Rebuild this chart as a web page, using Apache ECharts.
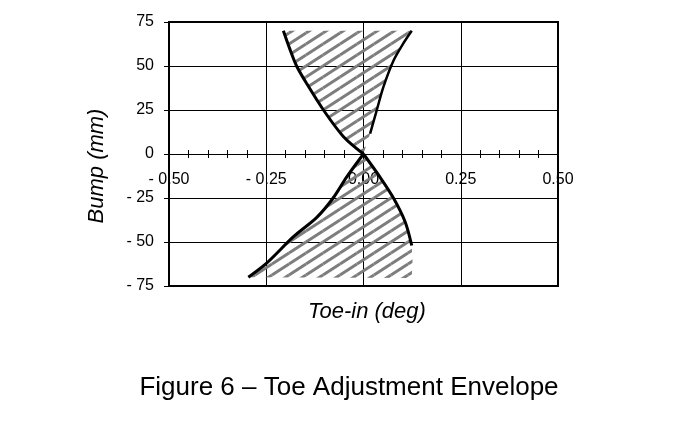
<!DOCTYPE html>
<html>
<head>
<meta charset="utf-8">
<script src="https://cdn.jsdelivr.net/npm/echarts@6/dist/echarts.min.js"></script>
<style>
html,body{margin:0;padding:0;background:#fff;}
#chart{width:686px;height:425px;}
</style>
</head>
<body>
<div id="chart"></div>
<script>
// ---- data ----
var xTicks = [-0.5, -0.25, 0, 0.25, 0.5];
var yTicks = [-75, -50, -25, 0, 25, 50, 75];

var upperLeftX  = [-0.206, -0.190, -0.172, -0.146, -0.103, -0.052, 0];
var upperLeftY  = [70, 60, 50, 40, 25, 10, 0];

var upperRightX = [0, 0.017, 0.034, 0.051, 0.077, 0.100, 0.124];
var upperRightY = [0, 11.6, 24.8, 38, 53, 62, 70];

var lowerLeftX  = [0, -0.043, -0.078, -0.120, -0.180, -0.249, -0.296];
var lowerLeftY  = [0, -13, -25, -36, -47, -62, -70];

var lowerRightX = [0, 0.042, 0.077, 0.107, 0.124, 0.126, 0.124];
var lowerRightY = [0, -13, -25, -38.5, -52, -61.5, -70.5];

var titleText = 'Figure 6 \u2013 Toe Adjustment Envelope';
var xName = 'Toe-in (deg)';
var yName = 'Bump (mm)';

function pairs(xs, ys){ return xs.map(function(x,i){ return [x, ys[i]]; }); }

var upperPoly = pairs(upperLeftX, upperLeftY).concat(pairs(upperRightX, upperRightY));
var lowerPoly = pairs(lowerLeftX, lowerLeftY).concat(pairs(lowerRightX, lowerRightY).reverse());

// hatch pattern
function makeHatch(){
  var w = 17, h = 11;
  var c = document.createElement('canvas');
  c.width = w; c.height = h;
  var g = c.getContext('2d');
  g.strokeStyle = '#7d7d7d';
  g.lineWidth = 3;
  for (var dx = -w; dx <= w; dx += w){
    for (var dy = -h; dy <= h; dy += h){
      g.beginPath();
      g.moveTo(dx, h + dy);
      g.lineTo(w + dx, dy);
      g.stroke();
    }
  }
  return c;
}
var hatch = makeHatch();

function polySeries(points){
  return {
    type: 'custom',
    coordinateSystem: 'cartesian2d',
    xAxisIndex: 0, yAxisIndex: 0,
    data: points,
    z: 3,
    clip: true,
    silent: true,
    renderItem: function(params, api){
      if (params.dataIndex !== 0) return null;
      var pts = points.map(function(p){ return api.coord(p); });
      return {
        type: 'polygon',
        shape: { points: pts },
        style: { fill: { image: hatch, repeat: 'repeat' }, stroke: null }
      };
    }
  };
}

function lineSeries(data, width){
  return {
    type: 'line',
    xAxisIndex: 0, yAxisIndex: 0,
    data: data,
    showSymbol: false,
    symbol: 'none',
    smooth: 0.3,
    z: 5,
    silent: true,
    lineStyle: { color: '#000', width: width }
  };
}

function fmt(v){
  if (v < 0) return '- ' + Math.abs(v).toFixed(2);
  return v.toFixed(2);
}
function fmtY(v){
  if (v < 0) return '- ' + Math.abs(v);
  return String(v);
}

var chart = echarts.init(document.getElementById('chart'), null, {renderer: 'canvas'});
var font = 'Liberation Sans, Arial, sans-serif';
var L = 169, R = 128, T = 22, H = 264, HALF = 132;
var xMin = xTicks[0], xMax = xTicks[xTicks.length-1];

chart.setOption({
  backgroundColor: '#fff',
  animation: false,
  textStyle: { fontFamily: font },
  grid: [
    { left: L, right: R, top: T, height: H, show: true, borderColor: '#000', borderWidth: 2, backgroundColor: 'transparent' },
    { left: L, right: R, top: T, height: HALF, show: false },
    { left: L, right: R, top: T + HALF, height: HALF, show: false }
  ],
  xAxis: [
    {
      gridIndex: 0, type: 'value', min: xMin, max: xMax, interval: 0.25,
      axisLine: { show: false }, axisTick: { show: false }, axisLabel: { show: false },
      splitLine: { show: true, lineStyle: { color: '#000', width: 1 } }
    },
    {
      gridIndex: 1, type: 'value', min: xMin, max: xMax, interval: 0.25, position: 'bottom',
      axisLine: { show: true, onZero: false, lineStyle: { color: '#000', width: 1 } },
      axisTick: { show: true, inside: false, length: 4, lineStyle: { color: '#000' } },
      minorTick: { show: true, splitNumber: 5, length: 4, lineStyle: { color: '#000' } },
      axisLabel: { margin: 18, color: '#000', fontSize: 16, fontFamily: font, formatter: fmt },
      splitLine: { show: false }
    },
    {
      gridIndex: 2, type: 'value', min: xMin, max: xMax, interval: 0.25, position: 'top',
      axisLine: { show: false, onZero: false },
      axisTick: { show: true, inside: false, length: 4, lineStyle: { color: '#000' } },
      minorTick: { show: true, splitNumber: 5, length: 4, lineStyle: { color: '#000' } },
      axisLabel: { show: false },
      splitLine: { show: false }
    }
  ],
  yAxis: [
    {
      gridIndex: 0, type: 'value', min: yTicks[0], max: yTicks[yTicks.length-1], interval: 25,
      axisLine: { show: true, onZero: false, lineStyle: { color: '#000', width: 2 } },
      axisTick: { show: true, inside: false, length: 5, lineStyle: { color: '#000' } },
      axisLabel: { margin: 15, color: '#000', fontSize: 16, fontFamily: font, formatter: fmtY },
      splitLine: { show: true, lineStyle: { color: '#000', width: 1 } }
    },
    { gridIndex: 1, type: 'value', min: 0, max: yTicks[yTicks.length-1], show: false },
    { gridIndex: 2, type: 'value', min: yTicks[0], max: 0, show: false }
  ],
  graphic: [
    { type: 'text', x: 367, y: 312, style: { text: xName, fill: '#000', font: 'italic 22px ' + font, textAlign: 'center', textVerticalAlign: 'middle' } },
    { type: 'text', x: 97, y: 166, rotation: Math.PI/2, style: { text: yName, fill: '#000', font: 'italic 22px ' + font, textAlign: 'center', textVerticalAlign: 'middle' } },
    { type: 'text', x: 349, y: 388, style: { text: titleText, fill: '#000', font: '26px ' + font, textAlign: 'center', textVerticalAlign: 'middle' } }
  ],
  series: [
    polySeries(upperPoly),
    polySeries(lowerPoly),
    lineSeries(pairs(upperLeftX, upperLeftY), 3),
    lineSeries(pairs(upperRightX, upperRightY).slice(1), 2.5),
    lineSeries(pairs(lowerLeftX, lowerLeftY), 3),
    lineSeries(pairs(lowerRightX, lowerRightY).slice(0, 5), 3)
  ]
});
</script>
</body>
</html>
